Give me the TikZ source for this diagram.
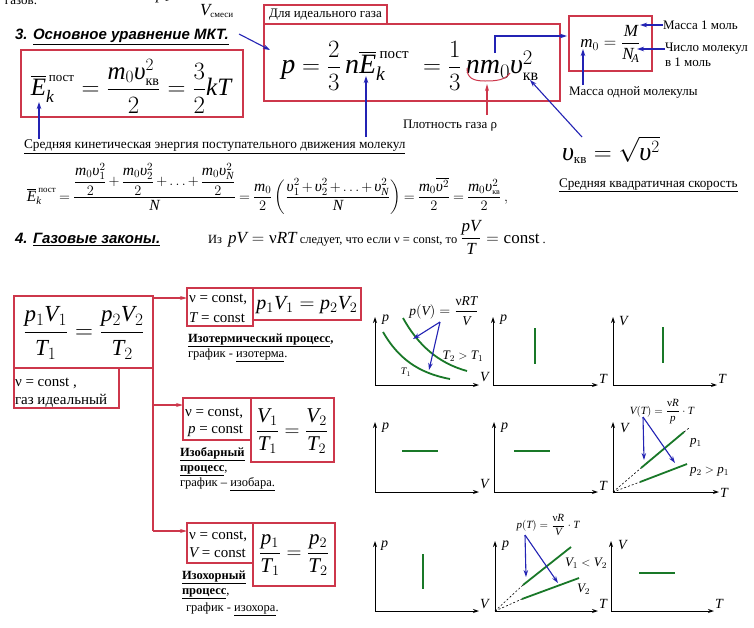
\documentclass[tikz,border=0pt]{standalone}
\usepackage{amsmath}
\usepackage{fontspec}
\setmainfont{Liberation Serif}
\setsansfont{Liberation Sans}
\usetikzlibrary{arrows.meta}
\makeatletter
\begingroup\edef\x{\endgroup
 \noexpand\DeclareSymbolFont{tletters}{TU}{\rmdefault}{m}{it}%
 \noexpand\DeclareSymbolFont{tupright}{TU}{\rmdefault}{m}{n}}\x
\count@=`a \loop \Umathcode\count@=7 \symtletters\count@ \ifnum\count@<`z \advance\count@\@ne\repeat
\count@=`A \loop \Umathcode\count@=7 \symtletters\count@ \ifnum\count@<`Z \advance\count@\@ne\repeat
\count@=`0 \loop \Umathcode\count@=0 \symtupright\count@ \ifnum\count@<`9 \advance\count@\@ne\repeat
\Umathchardef\myups=0 \symtletters "03C5
\Umathchardef\mynu=0 \symtupright "03BD
\makeatother
\newcommand\fs[1]{\fontsize{#1}{#1}\selectfont}
\newcommand\cyr[2]{\mbox{\fs{#1}#2}}
\definecolor{boxred}{RGB}{205,55,75}
\definecolor{arrblue}{RGB}{35,35,180}
\definecolor{grn}{RGB}{25,120,40}
\tikzset{
 rbox/.style={draw=boxred, line width=1.3pt, inner sep=0pt, outer sep=0pt},
 barrow/.style={draw=arrblue, line width=1.1pt, -{Stealth[length=7pt,width=4.5pt]}},
 rarrow/.style={draw=boxred, line width=1.2pt, -{Stealth[length=7pt,width=4pt]}},
 axis/.style={line width=1pt, -{Stealth[length=6pt,width=4pt]}},
 gline/.style={draw=grn, line width=1.8pt},
 dline/.style={dashed, dash pattern=on 2pt off 2pt, line width=0.6pt},
 axl/.style={anchor=west, font=\fs{14}},
 txt/.style={anchor=base west, font=\fs{12.5}},
 btxt/.style={anchor=base west, font=\fs{12.5}\bfseries},
}
\begin{document}
\begin{tikzpicture}[x=1pt,y=-1pt, every node/.append style={inner sep=0pt, outer sep=0pt}]
\useasboundingbox[fill=white] (0,0) rectangle (754,627);

% ---- top fragments
\node[txt, font=\fs{13}] (gazov) at (5,4) {газов.};
\node[anchor=base west, font=\fs{16}] (p1top) at (156,-1) {$p_1$};
\node[anchor=base west, font=\fs{17}] (vsm) at (200,15) {$V_{\cyr{9}{смеси}}$};

% ---- section 3
\node[anchor=base west, font=\fs{15}\sffamily\bfseries\itshape] (h3) at (15,39) {3. \underline{Основное уравнение МКТ.}};

\node[rbox, minimum width=222pt, minimum height=67pt, anchor=north west] (b1) at (21,50) {};
\node[font=\fs{25}] (f1) at (131,86) {$\overline{E}_k^{\,\cyr{13}{пост}} = \dfrac{m_0\myups_{\cyr{14}{кв}}^2}{2} = \dfrac{3}{2}kT$};

\node[txt, font=\fs{13.3}] (lblKE) at (24,148) {\underline{Средняя кинетическая энергия поступательного движения молекул}};
\coordinate (a1s) at (39,139);
\coordinate (a1e) at (39,102);
\draw[barrow] (a1s) -- (a1e);

\node[rbox, minimum width=123pt, minimum height=19pt, anchor=north west, font=\fs{13}] (b2l) at (264,5) {Для идеального газа};
\node[rbox, minimum width=296pt, minimum height=77pt, anchor=north west] (b2) at (264,24) {};
\node[font=\fs{28}] (f2) at (410,66) {$p = \dfrac{2}{3}\,n\overline{E}_k^{\,\cyr{15}{пост}} \;= \dfrac{1}{3}\,nm_0\myups_{\cyr{16}{кв}}^2$};

\coordinate (hend) at (239,34);
\coordinate (b2p) at (270,50);
\draw[barrow] (hend) -- (b2p);

\coordinate (a2s) at (366,137);
\coordinate (a2e) at (366,76);
\draw[barrow] (a2s) -- (a2e);

\node[txt, font=\fs{13}] (rho) at (403,128) {Плотность газа ρ};
\coordinate (a3s) at (487,115);
\coordinate (a3e) at (487,84);
\draw[rarrow] (a3s) -- (a3e);
\draw[boxred, line width=1pt] (467,68) .. controls (467,78) and (473,81) .. (485,81) .. controls (497,81) and (505,80) .. (510,73);

\node[rbox, minimum width=83pt, minimum height=55pt, anchor=north west] (b3) at (569,16) {};
\node[font=\fs{17}] (f3) at (b3.center) {$m_0 = \dfrac{M}{N_{\!A}}$};

\coordinate (bk1) at (495,53);
\coordinate (bk2) at (495,36);
\coordinate (m0in) at (567,36);
\draw[barrow] (bk1) -- (bk2) -- (m0in);

\node[txt, font=\fs{13}] (mmol) at (663,29) {Масса 1 моль};
\coordinate (mM) at (640,25);
\draw[barrow] (mmol.west |- 0,25) -- (mM);
\node[txt, font=\fs{13}] (nmol) at (665,51) {Число молекул};
\node[txt, font=\fs{13}] (nmol2) at (665,66) {в 1 моль};
\coordinate (mNA) at (637,49);
\draw[barrow] (nmol.west |- 0,49) -- (mNA);
\node[txt, font=\fs{13}] (mone) at (569,95) {Масса одной молекулы};
\coordinate (m0s) at (583,85);
\coordinate (m0e) at (583,49);
\draw[barrow] (m0s) -- (m0e);

\coordinate (vks) at (582,137);
\coordinate (vke) at (530,80);
\draw[barrow] (vks) -- (vke);
\node[anchor=base west, font=\fs{26}] (vkv) at (562,160) {$\myups_{\cyr{13}{кв}} = \sqrt{\myups^{2}}$};
\node[txt, font=\fs{13.2}] (skv) at (559,187) {\underline{Средняя квадратичная скорость}};

% ---- averaged energy
\node[anchor=base west, font=\fs{15.5}] (f4) at (27,201) {\thickmuskip=3.5mu plus 2mu\medmuskip=2.5mu plus 1mu$\overline{E}_k^{\,\cyr{9}{пост}} = \dfrac{\dfrac{m_0\myups_1^2}{2}+\dfrac{m_0\myups_2^2}{2}+\ldots+\dfrac{m_0\myups_N^2}{2}}{N} = \dfrac{m_0}{2}\left(\dfrac{\myups_1^2+\myups_2^2+\ldots+\myups_N^2}{N}\right) = \dfrac{m_0\overline{\myups^2}}{2} = \dfrac{m_0\myups_{\cyr{8}{кв}}^2}{2}\,,$};

% ---- section 4
\node[anchor=base west, font=\fs{15}\sffamily\bfseries\itshape] (h4) at (15,243) {4. \underline{Газовые законы.}};
\node[txt, font=\fs{12.5}] (h4t) at (208,243) {Из\ \ {\fs{17}$pV = \mynu RT$} следует, что если ν = const, то {\fs{17}$\dfrac{pV}{T} = \text{const}$}\ .};

% left boxes
\node[rbox, minimum width=139pt, minimum height=72pt, anchor=north west] (bA) at (14,296) {};
\node[font=\fs{23}] (fA) at (84,333) {$\dfrac{p_1V_1}{T_1} = \dfrac{p_2V_2}{T_2}$};
\node[rbox, minimum width=105pt, minimum height=40pt, anchor=north west] (bB) at (14,368) {};
\node[txt, font=\fs{15}] (bBt1) at (15,386) {ν = const ,};
\node[txt, font=\fs{15}] (bBt2) at (15,404) {газ идеальный};

\coordinate (jtop) at (153,298);
\coordinate (jmid) at (153,405);
\coordinate (jbot) at (153,531);
\draw[boxred, line width=1.3pt] (bA.south east) -- (jbot);

% isotherm
\node[rbox, minimum width=66pt, minimum height=38pt, anchor=north west] (c1) at (187,288) {};
\node[rbox, minimum width=108pt, minimum height=32pt, anchor=north west] (c2) at (253,288) {};
\draw[rarrow] (jtop) -- (c1.west |- jtop);
\node[txt, font=\fs{15}] (c1a) at (189,302) {ν = const,};
\node[txt, font=\fs{15}] (c1b) at (189,322) {$T$ = const};
\node[font=\fs{20}] (fC) at (307,305) {$p_1V_1 = p_2V_2$};
\node[btxt] (c3) at (188,342) {\underline{Изотермический процесс}\rlap{,}};
\node[txt] (c4) at (188,357) {график - \underline{изотерма}.};

% isobar
\node[rbox, minimum width=68pt, minimum height=42pt, anchor=north west] (d1) at (183,398) {};
\node[rbox, minimum width=83pt, minimum height=64pt, anchor=north west] (d2) at (251,398) {};
\draw[rarrow] (jmid) -- (d1.west |- jmid);
\node[txt, font=\fs{15}] (d1a) at (185,416) {ν = const,};
\node[txt, font=\fs{15}] (d1b) at (188,433) {$p$ = const};
\node[font=\fs{21}] (fD) at (292,431) {$\dfrac{V_1}{T_1} = \dfrac{V_2}{T_2}$};
\node[btxt] (d3) at (180,456) {\underline{Изобарный}};
\node[btxt] (d4) at (180,471) {\underline{процесс}\rlap{\mdseries ,}};
\node[txt] (d5) at (180,486) {график – \underline{изобара.}};

% isochore
\node[rbox, minimum width=66pt, minimum height=40pt, anchor=north west] (e1) at (187,523) {};
\node[rbox, minimum width=82pt, minimum height=63pt, anchor=north west] (e2) at (253,523) {};
\draw[rarrow] (jbot) -- (e1.west |- jbot);
\node[txt, font=\fs{15}] (e1a) at (189,539) {ν = const,};
\node[txt, font=\fs{15}] (e1b) at (189,557) {$V$ = const};
\node[font=\fs{21}] (fE) at (294,555) {$\dfrac{p_1}{T_1} = \dfrac{p_2}{T_2}$};
\node[btxt] (e3) at (182,579) {\underline{Изохорный}};
\node[btxt] (e4) at (182,594) {\underline{процесс}\rlap{\mdseries ,}};
\node[txt] (e5) at (186,611) {график - \underline{изохора}.};

% ---- graphs row 1
\coordinate (g11o) at (375,385); \coordinate (g11y) at (375,317); \coordinate (g11x) at (479,385);
\draw[axis] (g11o) -- (g11y); \draw[axis] (g11o) -- (g11x);
\node[axl] (g11p) at (382,320) {$p$};
\node[axl] (g11v) at (480,377) {$V$};
\draw[gline] (403,318) .. controls (418,345) and (438,363) .. (467,371);
\draw[gline] (383,332) .. controls (398,358) and (418,373) .. (450,379);
\node[font=\fs{13.5}] (g11f) at (444,311) {$p(V) = \dfrac{\mynu RT}{V}$};
\coordinate (g11a) at (440,322); \coordinate (g11b) at (413,339); \coordinate (g11c) at (429,370);
\draw[barrow] (g11a) -- (g11b); \draw[barrow] (g11a) -- (g11c);
\node[font=\fs{13}] (g11t) at (463,356) {$T_2 > T_1$};
\node[font=\fs{10}] (g11t1) at (406,372) {$T_1$};

\coordinate (g12o) at (493,385); \coordinate (g12y) at (493,317); \coordinate (g12x) at (598,385);
\draw[axis] (g12o) -- (g12y); \draw[axis] (g12o) -- (g12x);
\node[axl] (g12p) at (500,320) {$p$};
\node[axl] (g12t) at (599,379) {$T$};
\coordinate (g12a) at (535,328); \coordinate (g12b) at (535,364);
\draw[gline] (g12a) -- (g12b);

\coordinate (g13o) at (613,385); \coordinate (g13y) at (613,317); \coordinate (g13x) at (717,385);
\draw[axis] (g13o) -- (g13y); \draw[axis] (g13o) -- (g13x);
\node[axl] (g13v) at (619,321) {$V$};
\node[axl] (g13t) at (718,379) {$T$};
\coordinate (g13a) at (663,327); \coordinate (g13b) at (663,363);
\draw[gline] (g13a) -- (g13b);

% ---- graphs row 2
\coordinate (g21o) at (375,492); \coordinate (g21y) at (375,422); \coordinate (g21x) at (479,492);
\draw[axis] (g21o) -- (g21y); \draw[axis] (g21o) -- (g21x);
\node[axl] (g21p) at (382,428) {$p$};
\node[axl] (g21v) at (480,484) {$V$};
\coordinate (g21a) at (402,451); \coordinate (g21b) at (438,451);
\draw[gline] (g21a) -- (g21b);

\coordinate (g22o) at (494,492); \coordinate (g22y) at (494,422); \coordinate (g22x) at (598,492);
\draw[axis] (g22o) -- (g22y); \draw[axis] (g22o) -- (g22x);
\node[axl] (g22p) at (501,428) {$p$};
\node[axl] (g22t) at (599,486) {$T$};
\coordinate (g22a) at (514,451); \coordinate (g22b) at (550,451);
\draw[gline] (g22a) -- (g22b);

\coordinate (g23o) at (613,492); \coordinate (g23y) at (613,422); \coordinate (g23x) at (719,492);
\draw[axis] (g23o) -- (g23y); \draw[axis] (g23o) -- (g23x);
\node[axl] (g23v) at (620,428) {$V$};
\node[axl] (g23t) at (720,493) {$T$};
\coordinate (g23a) at (641,468); \coordinate (g23b) at (684,432);
\coordinate (g23c) at (640,482); \coordinate (g23d) at (687,464);
\coordinate (g23e) at (689,428);
\draw[dline] (g23o) -- (g23a); \draw[dline] (g23o) -- (g23c); \draw[dline] (g23b) -- (g23e);
\draw[gline] (g23a) -- (g23b); \draw[gline] (g23c) -- (g23d);
\node[axl, font=\fs{13}] (g23p1) at (690,443) {$p_1$};
\node[axl, font=\fs{13}] (g23p2) at (690,472) {$p_2 > p_1$};
\node[font=\fs{11}] (g23f) at (662,412) {$V(T) = \dfrac{\mynu R}{p}\cdot T$};
\coordinate (g23s) at (643,417); \coordinate (g23h1) at (644,460); \coordinate (g23h2) at (675,463);
\draw[barrow] (g23s) -- (g23h1); \draw[barrow] (g23s) -- (g23h2);

% ---- graphs row 3
\coordinate (g31o) at (375,611); \coordinate (g31y) at (375,541); \coordinate (g31x) at (479,611);
\draw[axis] (g31o) -- (g31y); \draw[axis] (g31o) -- (g31x);
\node[axl] (g31p) at (381,546) {$p$};
\node[axl] (g31v) at (480,604) {$V$};
\coordinate (g31a) at (423,554); \coordinate (g31b) at (423,589);
\draw[gline] (g31a) -- (g31b);

\coordinate (g32o) at (495,611); \coordinate (g32y) at (495,541); \coordinate (g32x) at (598,611);
\draw[axis] (g32o) -- (g32y); \draw[axis] (g32o) -- (g32x);
\node[axl] (g32p) at (502,546) {$p$};
\node[axl] (g32t) at (599,604) {$T$};
\coordinate (g32a) at (523,585); \coordinate (g32b) at (571,547);
\coordinate (g32c) at (522,599); \coordinate (g32d) at (579,578);
\draw[dline] (g32o) -- (g32a); \draw[dline] (g32o) -- (g32c);
\draw[gline] (g32a) -- (g32b); \draw[gline] (g32c) -- (g32d);
\node[axl, font=\fs{13}] (g32v1) at (565,563) {$V_1 < V_2$};
\node[axl, font=\fs{13}] (g32v2) at (577,589) {$V_2$};
\node[font=\fs{11}] (g32f) at (548,525) {$p(T) = \dfrac{\mynu R}{V}\cdot T$};
\coordinate (g32s) at (525,535); \coordinate (g32h1) at (526,577); \coordinate (g32h2) at (558,583);
\draw[barrow] (g32s) -- (g32h1); \draw[barrow] (g32s) -- (g32h2);

\coordinate (g33o) at (611,611); \coordinate (g33y) at (611,541); \coordinate (g33x) at (714,611);
\draw[axis] (g33o) -- (g33y); \draw[axis] (g33o) -- (g33x);
\node[axl] (g33v) at (618,545) {$V$};
\node[axl] (g33t) at (715,604) {$T$};
\coordinate (g33a) at (639,573); \coordinate (g33b) at (675,573);
\draw[gline] (g33a) -- (g33b);
\end{tikzpicture}
\end{document}
